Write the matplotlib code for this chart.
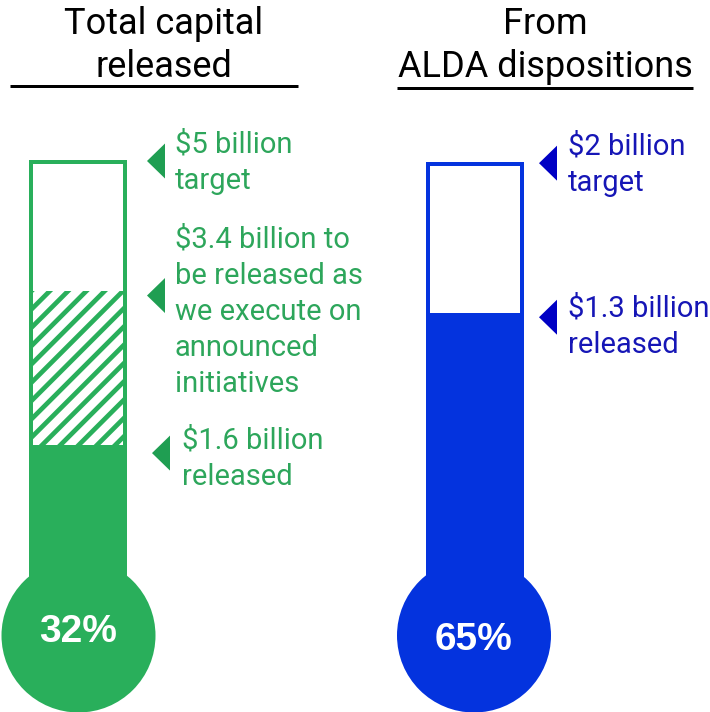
import numpy as np
import matplotlib.pyplot as plt
from matplotlib.patches import Rectangle, Circle, Polygon

# ---- data ----
titles = ['Total capital\nreleased', 'From\nALDA dispositions']
pct_text = ['32%', '65%']
released = [34.5, 65.0]      # top of solid fill, % of tube height
pending = [70.0, None]       # top of hatched part (only the first one)
note_text = [['$5 billion\ntarget',
              '$3.4 billion to\nbe released as\nwe execute on\nannounced\ninitiatives',
              '$1.6 billion\nreleased'],
             ['$2 billion\ntarget',
              '$1.3 billion\nreleased']]
note_level = [[100.0, 69.0, 32.7], [99.5, 64.0]]

# ---- colours ----
fill_col = ['#29AF5B', '#0433DE']
arrow_col = ['#1F9E52', '#0000C4']
text_col = ['#2DA65B', '#1616B6']

# ---- layout (pixels) ----
PX = 4.34          # pixels per unit, tube height = 100 units
ZERO = 595         # pixel row of level 0
def ux(p):
    return p / PX
def uy(p):
    return (ZERO - p) / PX

tube_cx = [78, 475]
bulb_cx = [78.5, 474]
tube_w = 98
tube_top = [160, 162]
bulb_cy = 635.5
bulb_r = 77
lw_px = 4
note_x = [[175, 175, 182], [568, 568]]
note_base = [[154, 253, 450], [156, 318]]   # baseline of first line
note_gap = 34.8
tip_x = [[147, 147, 152], [539, 539]]
pct_y = [632, 640.5]
title_cx = [163.5, 545]
title_base = [38, 38]
title_gap = 39
uline = [(10, 298, 86), (397, 693, 87.5)]

plt.rcParams['font.family'] = ['Roboto', 'DejaVu Sans']

fig = plt.figure(figsize=(7.1, 7.12), dpi=100)
ax = fig.add_axes([0, 0, 1, 1])
ax.set_xlim(0, ux(710))
ax.set_ylim(uy(712), uy(0))
ax.axis('off')

pt = 72 / 100.0   # points per pixel

for i in range(2):
    cx = tube_cx[i]
    left = ux(cx - tube_w / 2)
    w = ux(tube_w)
    top = uy(tube_top[i])
    # outline of empty tube
    half = lw_px / 2
    ax.add_patch(Rectangle((ux(cx - tube_w / 2 + half), uy(bulb_cy)),
                           ux(tube_w - lw_px), top - ux(half) - uy(bulb_cy),
                           facecolor='white', edgecolor=fill_col[i],
                           linewidth=lw_px * pt, joinstyle='miter', zorder=2))
    # hatched part
    if pending[i] is not None:
        x0 = ux(cx - tube_w / 2 + lw_px)
        x1 = ux(cx + tube_w / 2 - lw_px)
        clip = Rectangle((x0, released[i]), x1 - x0, pending[i] - released[i],
                         facecolor='none', edgecolor='none', zorder=3)
        ax.add_patch(clip)
        step = ux(18.3)
        for c in np.arange(-40, 40, step):
            xs = np.array([x0 - 30, x1 + 30])
            ys = released[i] + (xs - x0) + c
            ln, = ax.plot(xs, ys, color=fill_col[i], lw=4.7 * pt,
                          solid_capstyle='butt', zorder=3)
            ln.set_clip_path(clip)
    # solid part
    ax.add_patch(Rectangle((left, uy(bulb_cy)), w, released[i] - uy(bulb_cy),
                           facecolor=fill_col[i], edgecolor='none', zorder=4))
    ax.add_patch(Circle((ux(bulb_cx[i]), uy(bulb_cy)), ux(bulb_r),
                        facecolor=fill_col[i], edgecolor='none', zorder=4))
    ax.text(ux(bulb_cx[i]), uy(pct_y[i]), pct_text[i], color='white',
            fontsize=28, fontweight='bold', family=['Liberation Sans'],
            ha='center', va='center', zorder=5)

    # notes with arrows
    for j in range(len(note_text[i])):
        lv = note_level[i][j]
        tx = ux(tip_x[i][j])
        ax.add_patch(Polygon([(tx, lv), (tx + ux(18), lv + ux(17.5)),
                              (tx + ux(18), lv - ux(17.5))],
                             closed=True, facecolor=arrow_col[i],
                             edgecolor='none', zorder=5))
        n = note_text[i][j].count('\n')
        ax.text(ux(note_x[i][j]), uy(note_base[i][j] + n * note_gap),
                note_text[i][j], color=text_col[i], fontsize=21,
                ha='left', va='baseline', linespacing=1.366, zorder=5)

    # titles
    n = titles[i].count('\n')
    ax.text(ux(title_cx[i]), uy(title_base[i] + n * title_gap), titles[i],
            color='black', fontsize=26, ha='center', va='baseline',
            linespacing=1.26, multialignment='center')
    x0, x1, yl = uline[i]
    ax.plot([ux(x0), ux(x1)], [uy(yl), uy(yl)], color='black',
            lw=3 * pt, solid_capstyle='butt')

fig.savefig('out.png', dpi=100)
